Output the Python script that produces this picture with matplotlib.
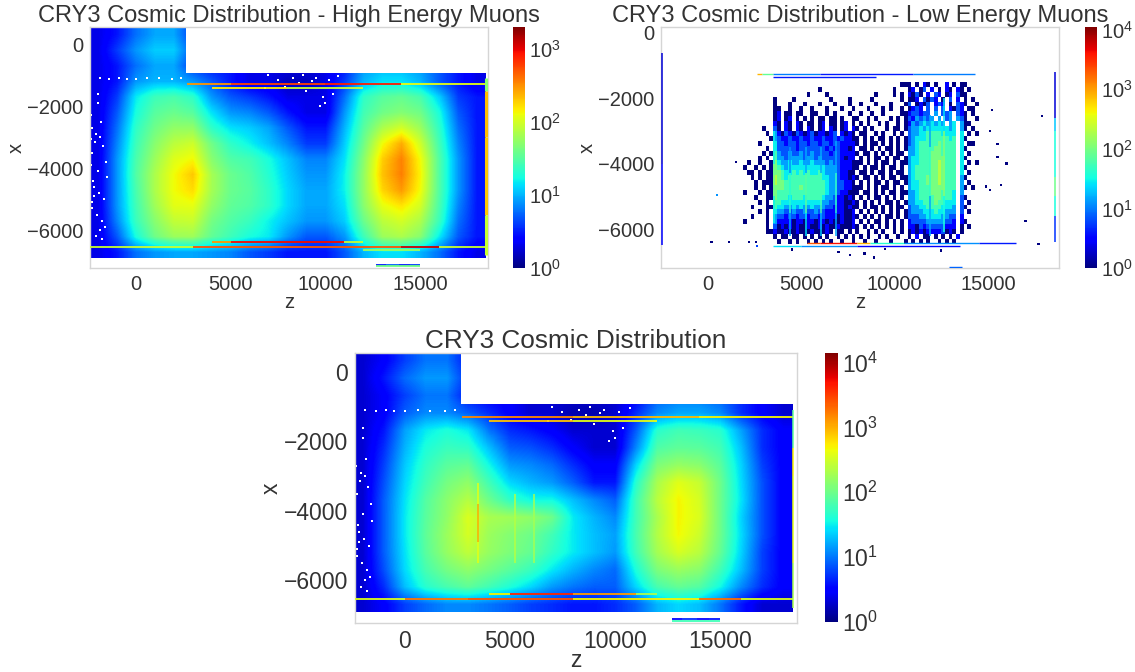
import matplotlib
matplotlib.use("Agg")
import matplotlib.pyplot as plt
import numpy as np
from matplotlib.colors import LogNorm, Normalize
from matplotlib.patches import Polygon

plt.rcParams["font.family"] = ["Liberation Sans", "DejaVu Sans"]
plt.rcParams["text.color"] = "#333333"
plt.rcParams["axes.labelcolor"] = "#333333"
plt.rcParams["xtick.color"] = "#333333"
plt.rcParams["ytick.color"] = "#333333"

W, H = 1135, 672

# counts, rows from x=+300 down to x=-6700 in 500 steps,
# columns from z=-2000 to z=18000 in 1000 steps
high_counts = [
    [2, 3, 6, 9, 9, 4, 2, 2, 2, 2, 2, 2, 2, 2, 2, 2, 2, 2, 2, 2, 2],
    [2, 4, 8, 12, 12, 5, 2, 2, 2, 2, 2, 2, 2, 2, 2, 2, 2, 2, 2, 2, 2],
    [2, 3, 6, 9, 9, 4, 3, 3, 2, 2, 2, 2, 2, 3, 8, 10, 10, 8, 5, 3, 2],
    [2, 3, 8, 10, 10, 8, 5, 3, 2, 2, 1.5, 1.5, 2, 4, 10, 14, 14, 10, 5, 3, 2],
    [2, 4, 15, 25, 28, 22, 8, 5, 4, 3, 2, 2, 2, 6, 22, 32, 36, 28, 12, 4, 3],
    [2, 5, 18, 32, 38, 32, 14, 8, 7, 5, 3, 2, 2, 8, 26, 40, 48, 40, 18, 5, 3],
    [2, 6, 22, 40, 55, 55, 22, 14, 12, 9, 5, 3, 3, 10, 32, 70, 100, 60, 22, 6, 3],
    [2, 7, 25, 50, 80, 95, 40, 22, 16, 11, 7, 4, 4, 12, 40, 130, 250, 95, 26, 7, 3],
    [2, 8, 28, 60, 110, 135, 50, 30, 26, 18, 11, 7, 7, 14, 50, 190, 350, 130, 30, 8, 3],
    [2, 8, 30, 70, 130, 200, 65, 38, 30, 20, 12, 8, 8, 16, 55, 210, 360, 140, 30, 8, 3],
    [2, 8, 28, 70, 130, 170, 65, 38, 32, 22, 13, 9, 9, 16, 55, 180, 290, 130, 30, 8, 3],
    [2, 8, 26, 62, 115, 120, 55, 35, 30, 22, 13, 9, 9, 14, 50, 120, 160, 100, 28, 7, 3],
    [2, 7, 24, 50, 85, 90, 42, 30, 24, 16, 11, 8, 8, 12, 38, 80, 100, 70, 24, 6, 3],
    [2, 5, 18, 40, 60, 62, 35, 25, 18, 15, 8, 5, 5, 8, 25, 60, 70, 50, 15, 5, 3],
    [2, 3, 6, 8, 9, 9, 8, 7, 5, 4, 3, 3, 3, 5, 10, 14, 14, 10, 6, 3, 2],
]
all_counts = [
    [2, 3, 6, 10, 10, 4, 2, 2, 2, 2, 2, 2, 2, 2, 2, 2, 2, 2, 2, 2, 2],
    [2, 4, 9, 14, 14, 5, 2, 2, 2, 2, 2, 2, 2, 2, 2, 2, 2, 2, 2, 2, 2],
    [2, 3, 6, 10, 10, 4, 3, 3, 2, 2, 2, 2, 2, 3, 8, 10, 10, 8, 5, 3, 2],
    [2, 3, 8, 12, 12, 8, 5, 3, 2, 2, 1.5, 1.5, 2, 5, 12, 16, 16, 12, 5, 3, 2],
    [2, 4, 15, 30, 40, 30, 10, 5, 4, 3, 2, 2, 2, 8, 45, 60, 55, 45, 15, 5, 3],
    [2, 5, 18, 40, 55, 50, 20, 8, 7, 5, 3, 2, 2, 12, 70, 85, 80, 60, 20, 5, 3],
    [2, 6, 22, 50, 80, 90, 35, 14, 12, 9, 5, 3, 3, 25, 120, 160, 140, 80, 24, 6, 3],
    [2, 7, 25, 60, 110, 150, 60, 25, 18, 14, 8, 4, 4, 45, 200, 380, 280, 100, 26, 7, 3],
    [2, 8, 28, 75, 140, 230, 100, 50, 35, 35, 20, 12, 8, 60, 240, 500, 330, 100, 28, 7, 3],
    [2, 8, 30, 80, 150, 350, 200, 180, 150, 100, 30, 18, 12, 60, 200, 500, 350, 100, 24, 7, 3],
    [2, 8, 30, 85, 170, 330, 170, 130, 100, 60, 30, 20, 15, 65, 220, 480, 300, 100, 26, 7, 3],
    [2, 8, 28, 80, 160, 260, 160, 120, 90, 50, 30, 20, 14, 60, 190, 340, 240, 90, 24, 6, 3],
    [2, 7, 26, 65, 110, 150, 110, 80, 55, 30, 18, 12, 9, 40, 120, 170, 140, 60, 20, 6, 3],
    [2, 5, 20, 45, 65, 85, 60, 40, 25, 14, 10, 8, 8, 25, 65, 90, 75, 35, 12, 5, 3],
    [2, 3, 6, 9, 12, 12, 10, 8, 6, 5, 4, 4, 5, 8, 18, 25, 20, 10, 4, 2, 2],
]

# low energy bins: z starts at 1700, 200 per char; x starts at -1500, 150 per row
# . empty, digits are count classes, see low_classes
low_classes = {"1": 1, "2": 3, "3": 7, "4": 14, "5": 28, "6": 55, "7": 100, "8": 200}
low_map = [
    "......... ...................... ............11 1.1.21.1..2.1.1 1...",
    "......... ............1......... ..........1... 12.13.2.1.21.21 .1..",
    "......... .........1....1....... .....1....1.1. 2131.2.32.12.31 1...",
    "......... 1....1.........1....1.. ...1.......1.1 12.3132.1.3.2.1 .1.1",
    "......... 1...1...1...1...1...1. .1...1...1...1 3.1213.232.1.32 1..1",
    "......... 11..1..1..1...1...1..1 ...1...1.1..1. 1232.3.3.3.2132 .11.",
    "......... 12.11.11..11..1.1...1. .1..1..1....11 233233.4.334.32 1.1.",
    "......... 12.12.1.1.1.11.11.1..1 1..1.1...1.1.1 3243434.4.34.43 1..1",
    "......... 21.21.21.11.12.11.12.1 .1.1..1.1..1.1 2434545454.45.4 11..",
    "......1.. 31.21.21.21.12.21.12.2 1.1.1...1.11.1 3445455555545.4 1.1.",
    ".......1. 42132132123122123.2121 .11..1.1..1.1. 3445566665555.5 .1.1",
    "........1 4322322322322322323221 1.1.1.11.1.1.1 3455566666656.5 1...",
    ".....1... 5332332332332332332222 1.1.11.1.1.1.1 3456666676666.5 .11.",
    ".......1. 5333332333333323232212 .11.1.1.11.1.1 4456666776666.5 1...",
    "......1.1 6433433433433332332222 1.11.1.1.1.11. 4456667776666.5 .1..",
    ".....1.1. 6443444434434333332122 .1.1.11.1.11.1 4556667777666.5 1...",
    "..1..1..1 7544544544544434332221 11.1.1.11.1.11 4556667787666.5 .1.1",
    ".1..1.1.1 7654555555555544432221 1.1.11.1.11.1. 4566667787666.5 1...",
    "..11.1.11 7765565656556544432211 .11.1.11.1.11. 4566667787666.5 .1..",
    "...1.1.11 8765666666666554432212 1.11.1.1.11.11 4566677787666.4 1...",
    "....1.111 8776666666666654433221 .1.1.11.1.11.1 4556677787666.4 .1..",
    "....1.1.1 7776666766666654433221 11.1.1.11.1.1. 4556667777666.4 1.1.",
    ".1...1.11 7666666666666654432211 1.11.1.1.11.11 4456667776665.4 ....",
    "....1..11 7666566656666544322121 .1.1.11.1.1.1. 4456666776665.3 1...",
    ".....1.1. 6655555555555443322112 1.1.1.1.11.1.1 4455666766555.3 .1..",
    "...1...11 6554454544544433222121 1.1.11.1.1.11. 3445566665554.3 1...",
    ".....1.1. 5443343343343322222112 .1.1.1.1.1.1.1 3444555655444.3 .1..",
    "...1...1. 4332332332332322212112 1.1.1.1.11.1.1 3334455554433.2 ....",
    ".1.....1. 4222212212212212112112 .1.1.11.1.1.1. 2333344444332.2 1...",
    ".......1. 3121212112112121121112 1.1.1.1.1.1.1. 2213233333222.1 .1..",
    ".......11 2112112111211121.11.1. 1..1.1.1..1.1. 1212122223121.1 ....",
    "......... 1.11.11.1.1.1.1..1.1.1 .1.1..1.1..1.. 1.2.11.1.1.1.2. ....",
    "......... .1..1.1..1.1.1.1..1..1 ..1..1...1...1 .1.1.1..1.1.1.. ....",
]

# thin bins: x position, then z edges and one count per segment
high_strips = [
    (-1300, [2700, 5000, 10000, 14000, 18500], [300, 600, 800, 120]),
    (-1410, [4000, 8000, 12000], [150, 90]),
    (-6540, [-2430, 3000, 14000, 16000, 18500], [90, 500, 1200, 90]),
    (-6395, [4000, 5000, 8000, 11000, 12000], [300, 900, 900, 90]),
    (-6655, [12000, 15000], [60]),
    (-7120, [12700, 13200, 13900, 14500, 15000], [3, 5, 3, 4]),
    (-7170, [12700, 15000], [40]),
]
all_strips = [
    (-1300, [2700, 8000, 14000, 18500], [1500, 900, 500]),
    (-1410, [4000, 8000, 12000], [800, 400]),
    (-6540, [-2380, 0, 3000, 8000, 11000, 14000, 16000, 18500], [350, 1800, 2500, 500, 500, 2000, 350]),
    (-6395, [4000, 5000, 8000, 11000, 12000], [500, 4000, 1200, 200]),
    (-7120, [12700, 13200, 13900, 14500, 15000], [3, 5, 3, 4]),
    (-7170, [12700, 15000], [60]),
]
low_strips = [
    (-1270, [2650, 2900, 3500, 6000, 11000, 14300], [800, 80, 10, 4, 10]),
    (-1350, [3500, 9000], [4]),
    (-6420, [5300, 6000, 8000, 8700, 10500, 14500, 16500], [2000, 4000, 800, 40, 12, 4]),
    (-6520, [3500, 5000, 8000, 13500], [25, 12, 3]),
    (-7170, [12900, 13600], [8]),
]
# same, upright: z position, x edges, one count per segment
high_bars = [(18500, [-1100, -1500, -3000, -5500, -6800], [50, 220, 200, 90])]
all_bars = [
    (18500, [-1100, -2200, -3000, -5500, -6800], [90, 500, 400, 200]),
    (3500, [-3200, -3800, -4900, -5500], [400, 1000, 400]),
    (5240, [-3500, -5500], [230]),
    (6140, [-3500, -5500], [190]),
]
low_bars = [
    (-2450, [-600, -4000, -6500], [2, 3]),
    (18600, [-1200, -2600, -3000, -4400, -5000, -5600, -6400], [2, 20, 35, 90, 35, 5]),
    (3540, [-3000, -4000, -5000, -5800], [30, 90, 30]),
    (4400, [-3500, -4300, -5500, -6200], [12, 40, 15]),
    (5240, [-3500, -4300, -5500, -6200], [15, 70, 25]),
    (6040, [-3500, -4300, -5500, -6200], [15, 55, 20]),
    (6840, [-3300, -4300, -5500, -6200], [15, 45, 15]),
    (11900, [-2500, -3500, -5000, -6200], [15, 45, 15]),
    (12640, [-2000, -3000, -5000, -6100], [25, 120, 35]),
]

# empty bins seen as white specks
left_holes_z = [-2100, -1900, -2300, -2000, -2200, -1700, -2300, -1800, -2100, -2400, -2000, -1600, -2200, -1900,
                -2350, -1750, -2250, -1950, -2050, -1650, -2400, -1850, -2150, -1550, -2300, -1800, -2000, -2400,
                -1900, -1400, -900, -500, 0, 600, 1200, 1900, 2400]
left_holes_x = [-2900, -3000, -3500, -4100, -4600, -5000, -5300, -5700, -6200, -2300, -1900, -3800, -4900, -6000,
                -2700, -3300, -4400, -4800, -5500, -5900, -3900, -2500, -3150, -4300, -5100, -6300, -1600, -3050,
                -1090, -1130, -1090, -1130, -1120, -1080, -1110, -1120, -1090]
top_holes_z = [7000, 7500, 8300, 8800, 9500, 10200, 10700, 6800, 7900, 9000, 9700, 9900, 10000, 8600, 9300, 10400]
top_holes_x = [-1000, -1150, -1100, -1000, -1080, -1150, -1040, -1420, -1380, -1500, -2000, -1700, -1900, -1250, -1180, -1600]

# lone occupied bins of the low energy panel
lone_bins = [
    (500, -4950), (200, -6400), (1150, -6400), (1500, -3950), (2200, -6400), (2600, -6400), (2650, -6520),
    (15200, -2350), (15100, -3000), (15500, -3400), (15500, -3800), (16000, -4000), (15700, -4650), (15100, -4800),
    (14900, -4700), (17000, -5750), (17900, -2550), (17700, -6450), (7000, -6700), (7600, -6800), (8400, -6750),
    (8900, -6870), (4500, -6620), (9500, -6600), (12500, -6650),
]
lone_z = [pair[0] for pair in lone_bins]
lone_x = [pair[1] for pair in lone_bins]
lone_c = [12, 1, 1, 1, 1, 1, 6] + [1] * (len(lone_bins) - 7)

# pixel boxes of the axes: left, top, right, bottom
panels = [
    dict(title="CRY3 Cosmic Distribution - High Energy Muons", box=(90, 27, 488, 268), cbox=(513, 27, 525, 268),
         xlim=(-2430, 18600), ylim=(-7220, 550), vmax=2000, tick=14.5, head=17, xpad=-1),
    dict(title="CRY3 Cosmic Distribution - Low Energy Muons", box=(661, 27, 1059, 268), cbox=(1085, 27, 1097, 268),
         xlim=(-2500, 18800), ylim=(-7190, 180), vmax=11000, tick=14.5, head=17, xpad=-1),
    dict(title="CRY3 Cosmic Distribution", box=(355, 353, 797, 623), cbox=(825, 353, 838, 622),
         xlim=(-2380, 18670), ylim=(-7230, 550), vmax=14000, tick=16.5, head=18.8, xpad=-3),
]


def add_px_axes(fig, box):
    left, top, right, bottom = box
    return fig.add_axes([left / W, 1 - bottom / H, (right - left) / W, (bottom - top) / H])


def draw_grid(ax, counts, vmax, outline):
    image = ax.imshow(
        np.log10(np.asarray(counts, dtype=float)),
        extent=(-2500, 18500, -6950, 550),
        origin="upper",
        aspect="auto",
        cmap="jet",
        norm=Normalize(0, np.log10(vmax)),
        interpolation="bilinear",
        zorder=1,
    )
    image.set_clip_path(Polygon(outline, transform=ax.transData))


def draw_low_map(ax, norm):
    rows = [row.replace(" ", "").ljust(64, ".")[:64] for row in low_map]
    values = np.full((len(rows), 64), np.nan)
    for r, row in enumerate(rows):
        for c, char in enumerate(row):
            if char in low_classes:
                values[r, c] = low_classes[char]
    z_edges = 1700 + 200 * np.arange(65)
    x_edges = -1500 - 150 * np.arange(len(rows) + 1)
    ax.pcolormesh(z_edges, x_edges, np.ma.masked_invalid(values), cmap="jet", norm=norm, zorder=1)


def draw_strips(ax, strips, norm, width=1.3):
    cmap = plt.get_cmap("jet")
    for x_pos, edges, values in strips:
        for start, stop, value in zip(edges[:-1], edges[1:], values):
            ax.plot([start, stop], [x_pos, x_pos], color=cmap(norm(value)), lw=width, solid_capstyle="butt", zorder=3)


def draw_bars(ax, bars, norm, width=1.1):
    cmap = plt.get_cmap("jet")
    for z_pos, edges, values in bars:
        for start, stop, value in zip(edges[:-1], edges[1:], values):
            ax.plot([z_pos, z_pos], [start, stop], color=cmap(norm(value)), lw=width, solid_capstyle="butt", zorder=3)


def style_axes(ax, panel):
    ax.set_xlim(panel["xlim"])
    ax.set_ylim(panel["ylim"])
    ax.set_xticks([0, 5000, 10000, 15000])
    ax.set_yticks([0, -2000, -4000, -6000])
    ax.tick_params(length=0, labelsize=panel["tick"], pad=5)
    ax.set_xlabel("z", fontsize=panel["tick"], labelpad=panel["xpad"])
    ax.set_ylabel("x", fontsize=panel["tick"], labelpad=1)
    ax.set_title(panel["title"], fontsize=panel["head"], pad=3)
    for spine in ax.spines.values():
        spine.set_color("#d5d5d5")
        spine.set_linewidth(1.0)


def add_colorbar(fig, panel, norm):
    cax = add_px_axes(fig, panel["cbox"])
    mappable = plt.cm.ScalarMappable(norm=norm, cmap="jet")
    bar = fig.colorbar(mappable, cax=cax)
    bar.outline.set_visible(False)
    bar.ax.minorticks_off()
    bar.ax.tick_params(length=0, labelsize=panel["tick"], pad=3)


fig = plt.figure(figsize=(W / 100, H / 100), dpi=100)
block_outline = [(-2500, 550), (2650, 550), (2650, -930), (18500, -930), (18500, -6900), (-2500, -6900)]

# high energy
panel = panels[0]
ax = add_px_axes(fig, panel["box"])
norm = LogNorm(1, panel["vmax"])
draw_grid(ax, high_counts, panel["vmax"], block_outline)
ax.scatter(left_holes_z + top_holes_z, left_holes_x + top_holes_x, s=3, marker="s", c="white", linewidths=0, zorder=2)
draw_strips(ax, high_strips, norm)
draw_bars(ax, high_bars, norm, width=2.2)
style_axes(ax, panel)
add_colorbar(fig, panel, norm)

# low energy
panel = panels[1]
ax = add_px_axes(fig, panel["box"])
norm = LogNorm(1, panel["vmax"])
draw_low_map(ax, norm)
ax.scatter(lone_z, lone_x, s=3, marker="s", c=lone_c, cmap="jet", norm=norm, linewidths=0, zorder=2.5)
draw_strips(ax, low_strips, norm, width=1.0)
draw_bars(ax, low_bars, norm)
style_axes(ax, panel)
add_colorbar(fig, panel, norm)

# both together
panel = panels[2]
ax = add_px_axes(fig, panel["box"])
norm = LogNorm(1, panel["vmax"])
draw_grid(ax, all_counts, panel["vmax"], block_outline)
ax.scatter(left_holes_z + top_holes_z, left_holes_x + top_holes_x, s=3, marker="s", c="white", linewidths=0, zorder=2)
draw_strips(ax, all_strips, norm)
draw_bars(ax, all_bars, norm)
style_axes(ax, panel)
add_colorbar(fig, panel, norm)

fig.savefig("out.png", dpi=100)
